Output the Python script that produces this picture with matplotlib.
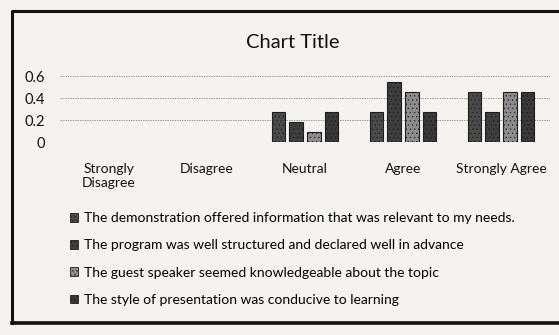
import matplotlib.pyplot as plt
import numpy as np
from matplotlib.patches import Patch
from matplotlib.lines import Line2D

plt.rcParams['font.family'] = ['Lato', 'DejaVu Sans']
plt.rcParams['hatch.linewidth'] = 0.4

categories = ["Strongly\nDisagree", "Disagree", "Neutral", "Agree", "Strongly Agree"]
series_names = [
    "The demonstration offered information that was relevant to my needs.",
    "The program was well structured and declared well in advance",
    "The guest speaker seemed knowledgeable about the topic",
    "The style of presentation was conducive to learning",
]
relevant = [0, 0, 0.273, 0.273, 0.455]
structured = [0, 0, 0.182, 0.545, 0.273]
speaker = [0, 0, 0.091, 0.455, 0.455]
style = [0, 0, 0.273, 0.273, 0.455]
yticks = [0, 0.2, 0.4, 0.6]

series = [relevant, structured, speaker, style]
colors = ["#4a4a4a", "#3e3e3e", "#8c8c8c", "#383838"]

bg = "#f5f3f0"
fig = plt.figure(figsize=(5.59, 3.35), dpi=100, facecolor=bg)
ax = fig.add_axes([60/559, 193/335, 490/559, 66/335])
ax.set_facecolor(bg)

x = np.arange(len(categories))
step = 0.18
for i, (vals, c) in enumerate(zip(series, colors)):
    bars = ax.bar(x + (i - 1.5) * step, vals, width=0.14, color=c,
                  edgecolor="#1e1e1e", linewidth=0.8, hatch="....", zorder=3)
    for b, v in zip(bars, vals):
        if v == 0:
            b.set_visible(False)

ax.set_xlim(-0.5, len(categories) - 0.5)
ax.set_ylim(0, 0.6)
ax.set_yticks(yticks)
ax.set_yticklabels(["0", "0.2", "0.4", "0.6"], fontsize=10.5)
ax.set_xticks(x)
ax.set_xticklabels(categories, fontsize=10)
ax.tick_params(axis="both", length=0, colors="#111111")
ax.tick_params(axis="y", pad=11)
ax.tick_params(axis="x", pad=15)
ax.yaxis.grid(True, color="#9a9a9a", linestyle=(0, (1.5, 1)), linewidth=0.7, zorder=0)
for s in ax.spines.values():
    s.set_visible(False)

fig.text(293/559, 1 - 42/335, "Chart Title", ha="center", va="center",
         fontsize=14.5, color="#111111")

handles = [Patch(facecolor=c, edgecolor="#1e1e1e", hatch="....", linewidth=0.6) for c in colors]
fig.legend(handles, series_names, loc="upper left", bbox_to_anchor=(70/559, 1 - 212/335),
           frameon=False, fontsize=10, handlelength=0.6, handleheight=0.6,
           handletextpad=0.4, labelspacing=1.1, borderaxespad=0, borderpad=0)

# scanned page border
fig.add_artist(Line2D([12/559, 12/559, 1.0], [1 - 323/335, 1 - 11/335, 1 - 11/335],
                      transform=fig.transFigure, color="#111111", linewidth=2.2))
fig.add_artist(Line2D([12/559, 1.0], [1 - 323/335, 1 - 323/335],
                      transform=fig.transFigure, color="#111111", linewidth=2.6))

fig.savefig("out.png", dpi=100, facecolor=bg)
